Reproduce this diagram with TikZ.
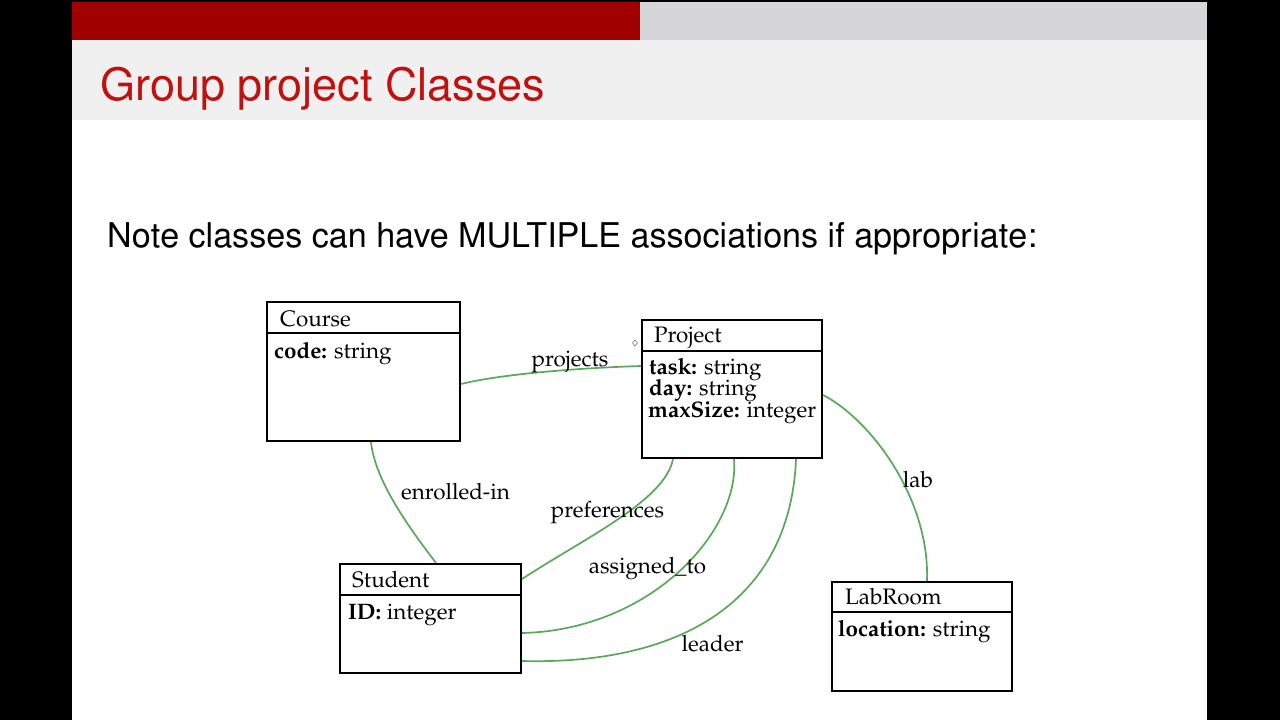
\documentclass[tikz,border=0pt]{standalone}
\usepackage[T1]{fontenc}
\newcommand\palfont{\fontfamily{ppl}\fontsize{22.4}{21.5}\selectfont}
\newcommand\helvtitle{\fontfamily{phv}\fontsize{45}{50}\selectfont}
\newcommand\helvbody{\fontfamily{phv}\fontsize{34.1}{38}\selectfont}
\definecolor{barred}{RGB}{160,0,0}
\definecolor{bargray}{RGB}{214,214,216}
\definecolor{titlebg}{RGB}{240,240,240}
\definecolor{titlered}{RGB}{192,16,16}
\definecolor{assoc}{RGB}{90,168,90}
\tikzset{
  classbox/.style={draw=black, line width=2.2pt, fill=white, rectangle, inner sep=0pt},
  ctitle/.style={anchor=base west, inner sep=0pt, font=\palfont},
  cattr/.style={anchor=base west, inner sep=0pt, font=\palfont},
  assocline/.style={draw=assoc, line width=1.7pt},
  alabel/.style={inner sep=0pt, font=\palfont},
}
\begin{document}
\begin{tikzpicture}[x=1pt, y=-1pt]
\useasboundingbox (0,0) rectangle (1280,720);
% background
\fill[black] (0,0) rectangle (1280,720);
\fill[white] (72,2) rectangle (1207,720);
\fill[titlebg] (72,40) rectangle (1207,120);
\fill[barred] (72,2) rectangle (640,40);
\fill[bargray] (640,2) rectangle (1207,40);
\node[anchor=base west, inner sep=0pt, text=titlered, font=\helvtitle] (title) at (100,100) {Group project Classes};
\node[anchor=base west, inner sep=0pt, font=\helvbody] (note) at (107,247) {Note classes can have MULTIPLE associations if appropriate:};

% classes
\node[classbox, minimum width=193pt, minimum height=139pt] (course) at (363.5,371.5) {};
\node[classbox, minimum width=180pt, minimum height=138pt] (project) at (732,389) {};
\node[classbox, minimum width=181pt, minimum height=109pt] (student) at (430.5,618.5) {};
\node[classbox, minimum width=180pt, minimum height=109pt] (labroom) at (922,636.5) {};

\draw[line width=2.2pt] ([yshift=-32pt]course.north west) -- ([yshift=-32pt]course.north east);
\draw[line width=2.2pt] ([yshift=-32pt]project.north west) -- ([yshift=-32pt]project.north east);
\draw[line width=2.2pt] ([yshift=-32pt]student.north west) -- ([yshift=-32pt]student.north east);
\draw[line width=2.2pt] ([yshift=-31pt]labroom.north west) -- ([yshift=-31pt]labroom.north east);

\node[ctitle] (coursename) at (280,326) {Course};
\node[cattr] (coursecode) at (274,358) {\textbf{code:} string};

\node[ctitle] (projectname) at (654,342) {Project};
\node[cattr] (ptask) at (649,374) {\textbf{task:} string};
\node[cattr] (pday) at (649,395) {\textbf{day:} string};
\node[cattr] (psize) at (648,417) {\textbf{maxSize:} integer};

\node[ctitle] (studentname) at (352,587) {Student};
\node[cattr] (sid) at (348,619) {\textbf{ID:} integer};

\node[ctitle] (labname) at (845,604) {LabRoom};
\node[cattr] (lloc) at (838,636) {\textbf{location:} string};

% small marker
\draw[gray, line width=0.6pt] (635,340) -- (637.5,343) -- (635,346) -- (632.5,343) -- cycle;

% associations
\draw[assocline] ([yshift=-12.5pt]course.east) .. controls +(40,-10) and +(-62,2) .. ([yshift=23pt]project.west);
\draw[assocline] ([xshift=7.5pt]course.south) .. controls +(4,39) and +(-26,-34) .. ([xshift=5.5pt]student.north);
\draw[assocline] ([xshift=-59pt]project.south) .. controls +(-8,42) and +(59,-39) .. ([yshift=39.5pt]student.east);
\draw[assocline] ([xshift=2pt]project.south) .. controls +(6,72) and +(129,-3) .. ([yshift=-14.5pt]student.east);
\draw[assocline] ([xshift=64pt]project.south) .. controls +(-6,142) and +(159,4) .. ([yshift=-42.5pt]student.east);
\draw[assocline] ([yshift=-6pt]project.east) .. controls +(48,25) and +(3,-82) .. ([xshift=5pt]labroom.north);

% labels
\node[alabel, anchor=base] (lprojects) at (570,366) {projects};
\node[alabel, anchor=base] (lenrolled) at (455.5,499) {enrolled-in};
\node[alabel, anchor=base] (lpref) at (607.5,517) {preferences};
\node[alabel, anchor=base] (lassigned) at (647.5,573) {assigned\_to};
\node[alabel, anchor=base] (lleader) at (712.5,651) {leader};
\node[alabel, anchor=base] (llab) at (918,487) {lab};
\end{tikzpicture}
\end{document}
